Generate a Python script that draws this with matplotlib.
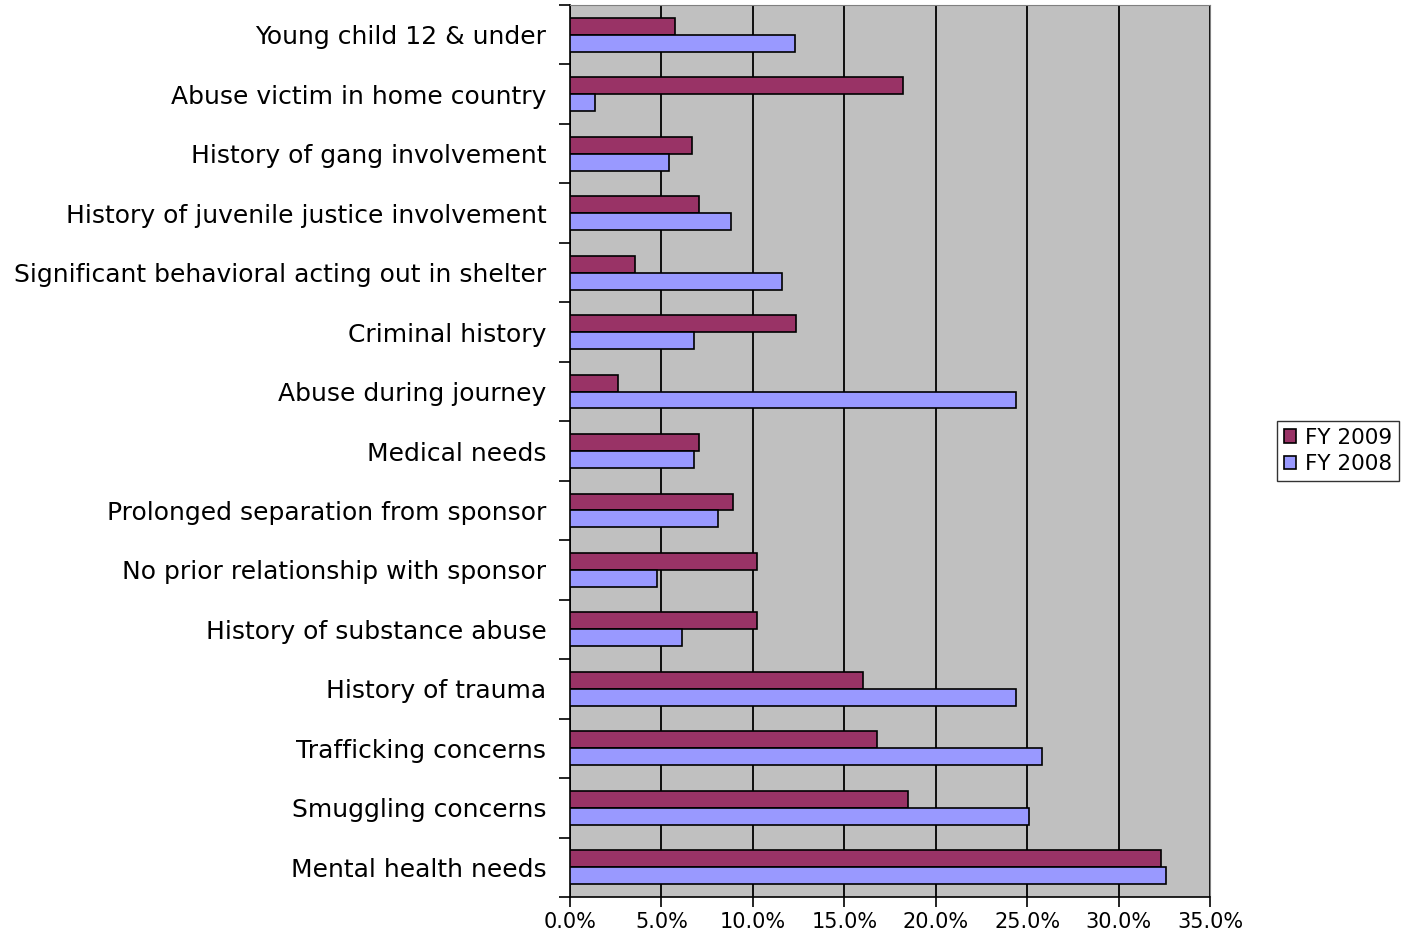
import numpy as np
import matplotlib
matplotlib.use("Agg")
import matplotlib.pyplot as plt
from matplotlib.ticker import FixedLocator, PercentFormatter

# categories listed bottom to top
categories = ['Mental health needs', 'Smuggling concerns', 'Trafficking concerns',
              'History of trauma', 'History of substance abuse',
              'No prior relationship with sponsor', 'Prolonged separation from sponsor',
              'Medical needs', 'Abuse during journey', 'Criminal history',
              'Significant behavioral acting out in shelter',
              'History of juvenile justice involvement', 'History of gang involvement',
              'Abuse victim in home country', 'Young child 12 & under']
fy2009 = [32.3, 18.5, 16.8, 16.0, 10.2, 10.2, 8.9, 7.05, 2.6, 12.35,
          3.55, 7.05, 6.65, 18.2, 5.75]
fy2008 = [32.6, 25.1, 25.8, 24.4, 6.1, 4.75, 8.1, 6.8, 24.4, 6.8,
          11.6, 8.8, 5.4, 1.35, 12.3]
xticks = [0, 5, 10, 15, 20, 25, 30, 35]

plt.rcParams['font.family'] = ['DejaVu Sans']

fig = plt.figure(figsize=(14.05, 9.34), dpi=100)
ax = fig.add_axes([570 / 1405, 1 - 897 / 934, 640 / 1405, 892 / 934])

y = np.arange(len(categories))
h = 0.285
ax.barh(y + h / 2, fy2009, height=h, color='#993366', edgecolor='black',
        linewidth=1.2, label='FY 2009', zorder=3)
ax.barh(y - h / 2, fy2008, height=h, color='#9999FF', edgecolor='black',
        linewidth=1.2, label='FY 2008', zorder=3)

ax.set_facecolor('#C0C0C0')
ax.set_xlim(0, 35)
ax.set_ylim(-0.5, len(categories) - 0.5)
ax.set_xticks(xticks)
ax.xaxis.set_major_formatter(PercentFormatter(decimals=1))
ax.grid(axis='x', color='black', linewidth=1.3, zorder=1)

# category labels in the middle, tick marks between categories
ax.set_yticks(y)
ax.set_yticklabels(categories, fontsize=18)
ax.tick_params(axis='y', which='major', length=0, pad=17)
ax.yaxis.set_minor_locator(FixedLocator(np.arange(-0.5, len(categories), 1)))
ax.tick_params(axis='y', which='minor', length=8, width=1.2, direction='out')
ax.tick_params(axis='x', length=7, width=1.2, direction='out', labelsize=15, pad=4)

for side in ['top', 'right']:
    ax.spines[side].set_color('#808080')
for side in ['left', 'bottom']:
    ax.spines[side].set_color('black')
    ax.spines[side].set_linewidth(1.2)

leg = ax.legend(loc='center left', bbox_to_anchor=(1.088, 0.5), fontsize=15.5,
                frameon=True, fancybox=False, edgecolor='black', handlelength=0.6,
                handleheight=0.6, handletextpad=0.4, borderpad=0.3, labelspacing=0.3)
leg.get_frame().set_linewidth(1.0)

fig.savefig('out.png', dpi=100, facecolor='white')
